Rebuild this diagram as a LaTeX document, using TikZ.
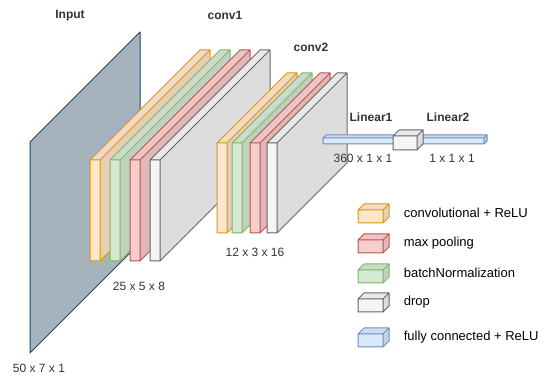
\documentclass[tikz,border=0pt]{standalone}
\usepackage{fontspec}
\setmainfont{Liberation Sans}
\definecolor{convfill}{HTML}{FFE6CC}\definecolor{convline}{HTML}{D79B00}
\definecolor{poolfill}{HTML}{F8CECC}\definecolor{poolline}{HTML}{B85450}
\definecolor{normfill}{HTML}{D5E8D4}\definecolor{normline}{HTML}{82B366}
\definecolor{dropfill}{HTML}{F5F5F5}\definecolor{dropline}{HTML}{666666}
\definecolor{fcfill}{HTML}{DAE8FC}\definecolor{fcline}{HTML}{6C8EBF}
\definecolor{inputfill}{HTML}{A7B3BC}\definecolor{inputline}{HTML}{23445D}
\definecolor{labeltext}{HTML}{333333}
% box: x, y (front top left), width, height, depth, kind
\newcommand{\slab}[6]{%
  \fill[#6fill!95!black] (#1,#2) -- ++(#3,0) -- ++(#5,-#5) -- ++(-#3,0) -- cycle;
  \fill[#6fill!90!black] (#1+#3,#2) -- ++(#5,-#5) -- ++(0,#4) -- ++(-#5,#5) -- cycle;
  \fill[#6fill] (#1,#2) rectangle ++(#3,#4);
  \draw[#6line] (#1,#2) -- ++(#5,-#5) -- ++(#3,0) -- ++(0,#4) -- ++(-#5,#5)
    (#1,#2) rectangle ++(#3,#4) (#1+#3,#2) -- ++(#5,-#5);
}
\begin{document}
\begin{tikzpicture}[x=1pt,y=-1pt,line width=1pt,line join=round,
    dimlabel/.style={text=labeltext,font=\fontsize{12}{14}\selectfont},
    namelabel/.style={text=labeltext,font=\fontsize{12}{14}\selectfont\bfseries},
    keylabel/.style={text=black,font=\fontsize{13}{15}\selectfont,anchor=west}]
\useasboundingbox (0,0) rectangle (549,379);
% input plane
\draw[fill=inputfill,draw=inputline] (30,142) -- (140,32) -- (140,243) -- (30,353) -- cycle;
% conv1
\foreach \bx/\kind in {90/conv,110/norm,130/pool,150/drop}
  {\slab{\bx}{160}{10}{101}{110}{\kind}}
% conv2
\foreach \bx/\kind in {217/conv,232/norm,250/pool,267/drop}
  {\slab{\bx}{143}{10}{90}{70}{\kind}}
% linear layers
\slab{323}{138}{161}{6}{3}{fc}
\slab{393}{136}{24}{14}{6}{drop}
% labels
\node[namelabel] (input) at (70,16) {Input};
\node[namelabel] (conv1) at (225,15) {conv1};
\node[namelabel] (conv2) at (311,47) {conv2};
\node[namelabel] (lin1) at (371,117) {Linear1};
\node[namelabel] (lin2) at (448,117) {Linear2};
\node[dimlabel] (dim0) at (39,368) {50 x 7 x 1};
\node[dimlabel] (dim1) at (139,286) {25 x 5 x 8};
\node[dimlabel] (dim2) at (255,252) {12 x 3 x 16};
\node[dimlabel] (dim3) at (363,158) {360 x 1 x 1};
\node[dimlabel] (dim4) at (452,158) {1 x 1 x 1};
% legend
\foreach \ky/\kind/\txt in {213/conv/convolutional + ReLU,243/pool/max pooling,
    273/norm/batchNormalization,302/drop/drop,337/fc/fully connected + ReLU}
  {\slab{358}{\ky-3}{25}{13}{6}{\kind}
   \node[keylabel] at (400,\ky) {\txt};}
\end{tikzpicture}
\end{document}
